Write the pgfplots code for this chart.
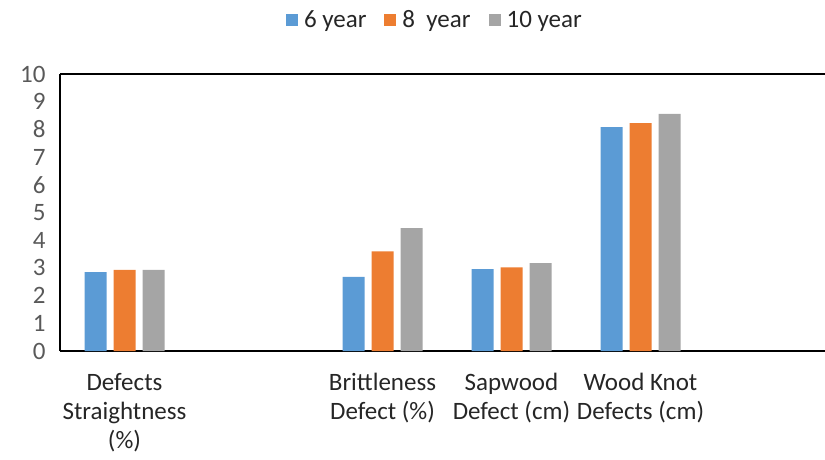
\documentclass[border=0pt]{standalone}
\usepackage{fontspec}
\setmainfont{Carlito}
\usepackage{pgfplots}
\pgfplotsset{compat=1.18}
\definecolor{cA}{HTML}{5B9BD5}
\definecolor{cB}{HTML}{ED7D31}
\definecolor{cC}{HTML}{A5A5A5}
\definecolor{tk}{HTML}{595959}
\definecolor{lb}{HTML}{262626}
\begin{document}
\begin{tikzpicture}[x=1pt,y=1pt]
\useasboundingbox (0,0) rectangle (825,459);
\begin{axis}[
  at={(60pt,108pt)}, anchor=south west,
  scale only axis, width=765pt, height=277pt,
  xmin=-0.5, xmax=5.43, ymin=0, ymax=10,
  axis x line*=box, axis y line*=left,
  axis line style={line width=2.4pt, black},
  major tick length=0pt,
  ytick={0,1,...,10},
  xtick={0,2,3,4},
  xticklabels={Defects\\Straightness\\(\%),Brittleness\\Defect (\%),Sapwood\\Defect (cm),Wood Knot\\Defects (cm)},
  x tick label style={font=\fontsize{25}{29}\selectfont, text=lb, align=center, anchor=north, yshift=-19pt},
  y tick label style={font=\fontsize{25}{28}\selectfont, text=tk, anchor=east, xshift=-11pt},
  /pgf/number format/assume math mode=true,
  ybar=7pt, bar width=22pt,
  legend style={at={(0.49,1.195)}, anchor=center, draw=none, fill=none, legend columns=3,
     font=\fontsize{25}{28}\selectfont, text=lb,
     /tikz/every even column/.append style={column sep=16pt}},
  legend image code/.code={\fill[#1] (0pt,-6pt) rectangle (12pt,6pt); \path (16pt,0pt);},
]
\addplot[fill=cA, draw=none] coordinates {(0,2.85) (2,2.68) (3,2.96) (4,8.08)};
\addplot[fill=cB, draw=none] coordinates {(0,2.93) (2,3.60) (3,3.02) (4,8.23)};
\addplot[fill=cC, draw=none] coordinates {(0,2.93) (2,4.44) (3,3.17) (4,8.56)};
\legend{6 year, 8\ \ year, 10 year}
\end{axis}
\end{tikzpicture}
\end{document}
